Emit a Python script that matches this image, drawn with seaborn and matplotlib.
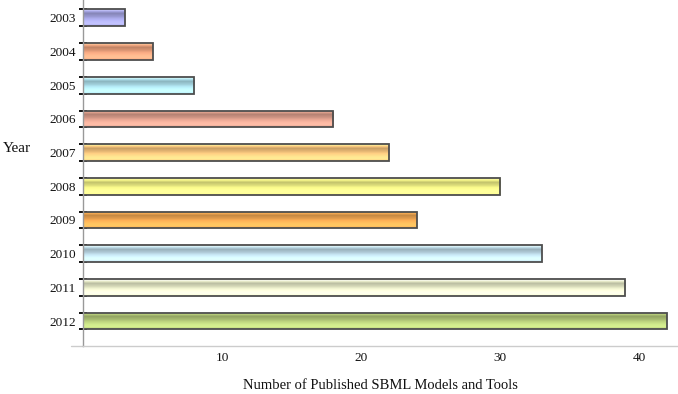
import numpy as np
import pandas as pd
import matplotlib.pyplot as plt
import matplotlib.colors as mcolors
import seaborn as sns

# ==================================================
# Data
# ==================================================
years = ["2003", "2004", "2005", "2006", "2007", "2008", "2009", "2010", "2011", "2012"]
counts = [3, 5, 8, 18, 22, 30, 24, 33, 39, 42]
bar_colors = ["#a3a3e0", "#eba17c", "#abdde9", "#dc9e8c", "#f6c47c",
              "#eeee84", "#f1a752", "#bcd9e6", "#e5e8c6", "#b3c878"]
x_ticks = [10, 20, 30, 40]

# ==================================================
# Settings
# ==================================================
sns.set_theme(style="white")
plt.rcParams["font.family"] = ["Liberation Serif", "DejaVu Serif"]
plt.rcParams["text.color"] = "#111111"
plt.rcParams["xtick.labelcolor"] = "#111111"
plt.rcParams["ytick.labelcolor"] = "#111111"
plt.rcParams["axes.labelcolor"] = "#111111"

df = pd.DataFrame({"year": years, "count": counts})

fig = plt.figure(figsize=(6.78, 3.94), dpi=100)
ax = fig.add_axes([83 / 678, 48 / 394, 1 - 83 / 678, 346 / 394])

ax = sns.barplot(
    data=df, x="count", y="year", hue="year", palette=bar_colors,
    orient="h", width=0.5, legend=False, ax=ax,
    edgecolor="#4d4d4d", linewidth=1.3
)

ax.set_xlim(0, 42.8)
ax.set_ylim(9.74, -0.53)

# gradient fill inside each bar
shade = np.array([1.25, 1.0, 0.82, 0.88, 0.95, 1.05, 1.12, 1.18, 1.2, 1.1])
for patch, col in zip(ax.patches, bar_colors):
    rgb = np.array(mcolors.to_rgb(col))
    img = np.clip(rgb[None, :] * shade[:, None], 0, 1)[:, None, :]
    x0, y0 = patch.get_x(), patch.get_y()
    w, h = patch.get_width(), patch.get_height()
    im = ax.imshow(img, extent=[x0, x0 + w, y0 + h, y0], aspect="auto",
                   interpolation="bilinear", zorder=patch.get_zorder() + 0.1)
    im.set_clip_path(patch)
    patch.set_facecolor("none")
    patch.set_zorder(patch.get_zorder() + 0.2)

ax.set_xlim(0, 42.8)
ax.set_ylim(9.74, -0.53)

# ==================================================
# Axes styling
# ==================================================
for s in ["top", "right"]:
    ax.spines[s].set_visible(False)
ax.spines["left"].set_color("#999999")
ax.spines["left"].set_linewidth(1.0)
ax.spines["bottom"].set_color("#cccccc")
ax.spines["bottom"].set_linewidth(1.0)
ax.plot([-12 / 595, 0], [0, 0], transform=ax.transAxes, color="#cccccc",
        lw=1.0, clip_on=False)

ax.set_xticks(x_ticks)
ax.set_xticklabels([str(t) for t in x_ticks], fontsize=9.5)
ax.tick_params(axis="x", length=0, pad=4)

ax.set_yticks(range(len(years)))
ax.set_yticklabels(years, fontsize=9.5)
ax.set_yticks([i + d for i in range(len(years)) for d in (-0.25, 0.25)], minor=True)
ax.tick_params(axis="y", which="major", length=0, pad=5)
ax.tick_params(axis="y", which="minor", length=6, width=1.3, direction="inout",
               color="black", left=True)

ax.set_xlabel("Number of Published SBML Models and Tools", fontsize=10.5, labelpad=11)
ax.set_ylabel("")
fig.text(3 / 678, 1 - 148 / 394, "Year", fontsize=11, va="center", ha="left")

plt.savefig("out.png", dpi=100)
